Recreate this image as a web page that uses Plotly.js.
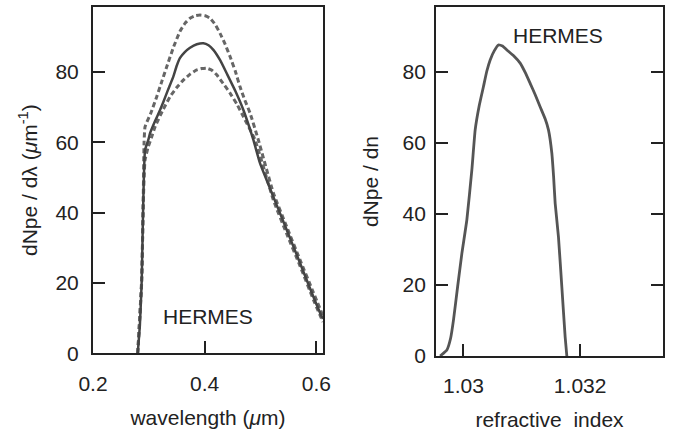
<!DOCTYPE html>
<html>
<head>
<meta charset="utf-8">
<script src="https://cdn.plot.ly/plotly-3.0.1.min.js"></script>
<style>html,body{margin:0;padding:0;background:#fff;}#chart{width:673px;height:431px;}</style>
</head>
<body>
<div id="chart"></div>
<script>
// Left panel: photoelectron spectrum vs wavelength (um)
const wlCentral = [0.2801, 0.2840, 0.2873, 0.2901, 0.2932, 0.2991, 0.3022, 0.3110, 0.3201, 0.3260, 0.3340, 0.3439, 0.3500, 0.3559, 0.3640, 0.3738, 0.3860, 0.3977, 0.4070, 0.4156, 0.4280, 0.4396, 0.4550, 0.4694, 0.4873, 0.4993, 0.5231, 0.5471, 0.5710, 0.5948, 0.6099, 0.6120];
const dNdlCentral = [0, 8, 20.8, 43.6, 57.8, 60.7, 62.6, 66.0, 69.2, 71.5, 74.8, 78.7, 81.8, 84.0, 85.6, 86.9, 87.9, 88.2, 87.6, 86.3, 83.3, 79.6, 74.6, 69.2, 60.7, 54.0, 44.5, 35.1, 25.6, 16.1, 10.4, 9.8];

const wlUpper = [0.2801, 0.2873, 0.2901, 0.2915, 0.2932, 0.3040, 0.3142, 0.3230, 0.3321, 0.3440, 0.3559, 0.3650, 0.3738, 0.3830, 0.3918, 0.4010, 0.4097, 0.4190, 0.4276, 0.4370, 0.4455, 0.4550, 0.4634, 0.4720, 0.4814, 0.4962, 0.5231, 0.5470, 0.5710, 0.5950, 0.6120];
const dNdlUpper = [0, 21.5, 45, 60, 64.4, 68.5, 73.0, 77.2, 81.5, 87.0, 91.6, 93.9, 95.3, 96.0, 96.2, 96.0, 95.3, 93.5, 91.0, 87.8, 84.4, 80.2, 75.8, 72.0, 68.3, 60.7, 45.6, 36.0, 26.5, 17.2, 10.6];

const wlLower = [0.2801, 0.2873, 0.2901, 0.2932, 0.2991, 0.3050, 0.3111, 0.3240, 0.3380, 0.3500, 0.3618, 0.3740, 0.3858, 0.3950, 0.4038, 0.4130, 0.4217, 0.4330, 0.4455, 0.4580, 0.4694, 0.4903, 0.5231, 0.5470, 0.5710, 0.5950, 0.6120];
const dNdlLower = [0, 20.5, 43, 55, 58.8, 61.5, 64.4, 68.8, 73.0, 75.6, 77.7, 79.4, 80.6, 81.0, 81.1, 80.5, 79.2, 76.8, 74.0, 70.8, 67.3, 60.7, 43.6, 34.0, 24.8, 15.2, 8.9];

// Right panel: spectrum vs refractive index
const nIndex = [1.029600, 1.029716, 1.029780, 1.029829, 1.029900, 1.029973, 1.030058, 1.030144, 1.030201, 1.030270, 1.030343, 1.030400, 1.030458, 1.030530, 1.030600, 1.030670, 1.030744, 1.030860, 1.030972, 1.031060, 1.031143, 1.031230, 1.031314, 1.031400, 1.031457, 1.031515, 1.031545, 1.031572, 1.031628, 1.031686, 1.031743, 1.031772];
const dNdn = [0, 1.7, 5.0, 10.1, 19.5, 28.9, 38.3, 52.4, 63.7, 70.5, 75.9, 80.2, 83.4, 86.0, 87.6, 87.3, 86.2, 84.6, 82.5, 79.8, 76.8, 73.6, 70.2, 66.8, 63.7, 57.1, 50.5, 43.0, 33.6, 19.5, 5.4, 0];

const xTicksLeft = [0.2, 0.4, 0.6];
const xTickTextLeft = ['0.2', '0.4', '0.6'];
const xTicksRight = [1.03, 1.032];
const xTickTextRight = ['1.03', '1.032'];
const yTicks = [0, 20, 40, 60, 80];

const FONT = 'Liberation Sans, Arial, sans-serif';
const INK = '#222';
const FS = 21;

const traces = [
  {x: wlUpper, y: dNdlUpper, xaxis: 'x', yaxis: 'y', mode: 'lines', line: {color: '#666', width: 3, dash: '5px,3px', shape: 'spline', smoothing: 0.4}, hoverinfo: 'skip'},
  {x: wlLower, y: dNdlLower, xaxis: 'x', yaxis: 'y', mode: 'lines', line: {color: '#666', width: 3, dash: '5px,3px', shape: 'spline', smoothing: 0.4}, hoverinfo: 'skip'},
  {x: wlCentral, y: dNdlCentral, xaxis: 'x', yaxis: 'y', mode: 'lines', line: {color: '#444', width: 2.5, shape: 'spline', smoothing: 0.4}, hoverinfo: 'skip'},
  {x: nIndex, y: dNdn, xaxis: 'x2', yaxis: 'y2', mode: 'lines', line: {color: '#555', width: 2.8, shape: 'spline', smoothing: 0.4}, hoverinfo: 'skip'}
];

const axCommon = {
  showgrid: false, zeroline: false, showline: true, linecolor: INK, linewidth: 2,
  ticks: 'inside', ticklen: 12, tickwidth: 2, tickcolor: INK,
  tickfont: {family: FONT, size: FS, color: INK}
};

const layout = {
  width: 673, height: 431,
  margin: {l: 93, r: 10, t: 7, b: 75},
  paper_bgcolor: '#fff', plot_bgcolor: '#fff',
  showlegend: false,
  font: {family: FONT, size: FS, color: INK},
  xaxis: Object.assign({}, axCommon, {
    domain: [0, 0.4035], anchor: 'y', range: [0.2, 0.612],
    tickvals: xTicksLeft, ticktext: xTickTextLeft, mirror: true, ticklabelstandoff: 10,
    title: {text: 'wavelength (<i>μ</i>m)', font: {family: FONT, size: FS, color: INK}, standoff: 17}
  }),
  yaxis: Object.assign({}, axCommon, {
    domain: [0.0077, 1], anchor: 'x', range: [0, 98.5],
    tickvals: yTicks, mirror: true, ticklabelstandoff: 8,
    title: {text: 'dNpe / dλ (<i>μ</i>m<sup>-1</sup>)', font: {family: FONT, size: FS, color: INK}, standoff: 12}
  }),
  xaxis2: Object.assign({}, axCommon, {
    domain: [0.6018, 1], anchor: 'y2', range: [1.02953, 1.03342],
    tickvals: xTicksRight, ticktext: xTickTextRight, mirror: true, ticklabelstandoff: 10,
    title: {text: 'refractive \u00a0index', font: {family: FONT, size: FS, color: INK}, standoff: 17}
  }),
  yaxis2: Object.assign({}, axCommon, {
    domain: [0, 1], anchor: 'x2', range: [0, 98.3],
    tickvals: yTicks, mirror: 'ticks', ticklabelstandoff: 4,
    title: {text: 'dNpe / dn', font: {family: FONT, size: FS, color: INK}, standoff: 18}
  }),
  annotations: [
    {text: 'HERMES', xref: 'x domain', yref: 'y domain', x: 0.5, y: 0.105, xanchor: 'center', yanchor: 'middle', showarrow: false, font: {family: FONT, size: FS, color: INK}},
    {text: 'HERMES', xref: 'x2 domain', yref: 'y2 domain', x: 0.537, y: 0.917, xanchor: 'center', yanchor: 'middle', showarrow: false, font: {family: FONT, size: FS, color: INK}}
  ]
};

Plotly.newPlot('chart', traces, layout, {displayModeBar: false, staticPlot: true});
</script>
</body>
</html>
